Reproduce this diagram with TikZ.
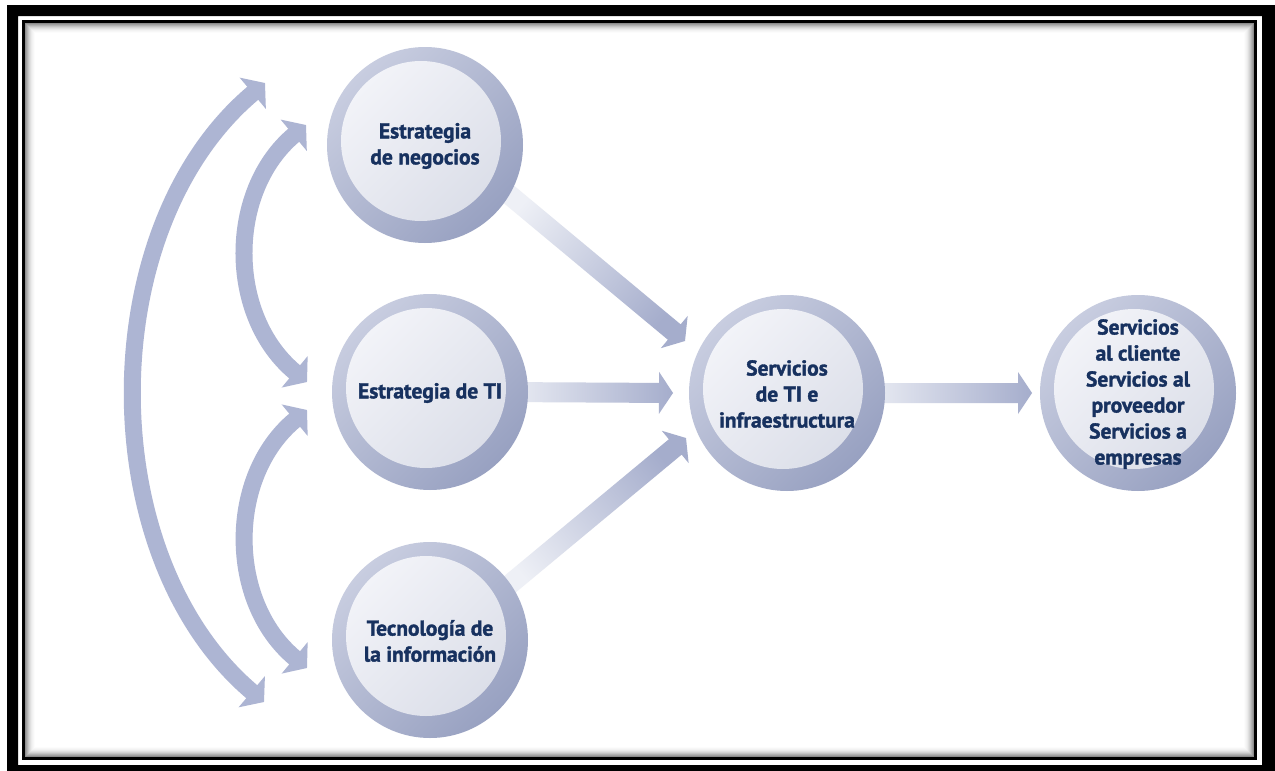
\documentclass[tikz,border=0pt]{standalone}
\usepackage{fontspec}
\setmainfont{PT Sans}[BoldFeatures={FakeBold=1.6}]
\usetikzlibrary{arrows.meta,calc}

\definecolor{navy}{HTML}{17315F}
\definecolor{arcblue}{HTML}{ADB5D3}
\definecolor{arrlight}{HTML}{EEF0F6}
\definecolor{arrdark}{HTML}{A5ADCC}
\definecolor{ringlight}{HTML}{C8CDE0}
\definecolor{ringdark}{HTML}{98A1C1}
\definecolor{disklight}{HTML}{F2F3F8}
\definecolor{diskdark}{HTML}{DCDFE9}

\tikzset{
  ring/.style={circle, minimum size=196pt, inner sep=0pt, outer sep=0pt,
    left color=ringlight, right color=ringdark, shading angle=45},
  disk/.style={left color=disklight, right color=diskdark, shading angle=45},
  lab/.style={font=\bfseries\fontsize{21.5}{26}\selectfont, text=navy,
    align=center, inner sep=0pt},
  curvearr/.style={draw=arcblue, line width=17pt,
    {Triangle[length=16pt,width=40pt]}-{Triangle[length=16pt,width=40pt]}},
}

% shaded block arrow: tail node, tail offset, head node, head offset, shading angle
\newcommand\blockarrow[5]{%
  \coordinate (bt) at ($(#1)+(#2)$);
  \coordinate (bh) at ($(#3)+(#4)$);
  \coordinate (bb) at ($(bh)!14pt!(bt)$);
  \shade[left color=arrlight, right color=arrdark, shading angle=#5]
    ($(bt)!10pt!90:(bh)$) -- ($(bb)!10pt!90:(bh)$) -- ($(bb)!21pt!90:(bh)$) -- (bh)
    -- ($(bb)!21pt!-90:(bh)$) -- ($(bb)!10pt!-90:(bh)$) -- ($(bt)!10pt!-90:(bh)$) -- cycle;
}

% circle with shaded rim, lighter inner disk and its caption
\newcommand\bubble[3]{%
  \node[ring] (#1) at (#2) {};
  \shade[disk] ($(#1.center)+(-4,-4)$) circle[radius=80];
  \node[lab] (#1-t) at ($(#1.center)+(0,1)$) {#3};
}

\begin{document}
\begin{tikzpicture}[x=1pt, y=-1pt]
  \useasboundingbox (0,0) rectangle (1275,771);
  \fill[white] (0,0) rectangle (1275,771);

  % frame: heavy outer band, thin inner rule, soft inner shadow
  \fill[black, even odd rule] (7,5) rectangle (1275,771) (18,16) rectangle (1262,765);
  \draw[line width=3pt] (23.5,21.5) rectangle (1255.5,758.5);
  \foreach \i/\c in {0/45,1/37,2/30,3/23,4/17,5/12,6/8,7/5,8/3,9/1}
    \draw[line width=1pt, black!\c] (25.5+\i,23.5+\i) rectangle (1253.5-\i,756.5-\i);

  % node centres
  \coordinate (neg) at (425,145);
  \coordinate (ti)  at (430,392);
  \coordinate (tec) at (430,640);
  \coordinate (srv) at (787,393);
  \coordinate (cli) at (1138,393);

  % straight shaded arrows
  \blockarrow{neg}{75,42}{srv}{-102,-52}{50}
  \blockarrow{ti}{70,0}{srv}{-114,0}{90}
  \blockarrow{tec}{70,-47.5}{srv}{-101,45}{130}
  \blockarrow{srv}{70,0}{cli}{-106,0}{90}

  % curved two-way arrows on the left
  \coordinate (a1s) at ($(neg)+(-119,-20)$);
  \coordinate (a1e) at ($(ti)+(-123,-10)$);
  \draw[curvearr] (a1s) .. controls ($(a1s)+(-79,66)$) and ($(a1e)+(-80,-66)$) .. (a1e);

  \coordinate (a2s) at ($(ti)+(-123,18)$);
  \coordinate (a2e) at ($(tec)+(-123,28)$);
  \draw[curvearr] (a2s) .. controls ($(a2s)+(-80,66)$) and ($(a2e)+(-80,-66)$) .. (a2e);

  \coordinate (a3s) at ($(neg)+(-160,-62)$);
  \coordinate (a3e) at ($(tec)+(-166,62)$);
  \draw[curvearr] (a3s) .. controls ($(a3s)+(-173,145)$) and ($(a3e)+(-172,-145)$) .. (a3e);

  % circles
  \bubble{c-neg}{neg}{Estrategia\\de negocios}
  \bubble{c-ti}{ti}{Estrategia de TI}
  \bubble{c-tec}{tec}{Tecnología de\\la información}
  \bubble{c-srv}{srv}{Servicios\\de TI e\\infraestructura}
  \bubble{c-cli}{cli}{Servicios\\al cliente\\Servicios al\\proveedor\\Servicios a\\empresas}
\end{tikzpicture}
\end{document}
